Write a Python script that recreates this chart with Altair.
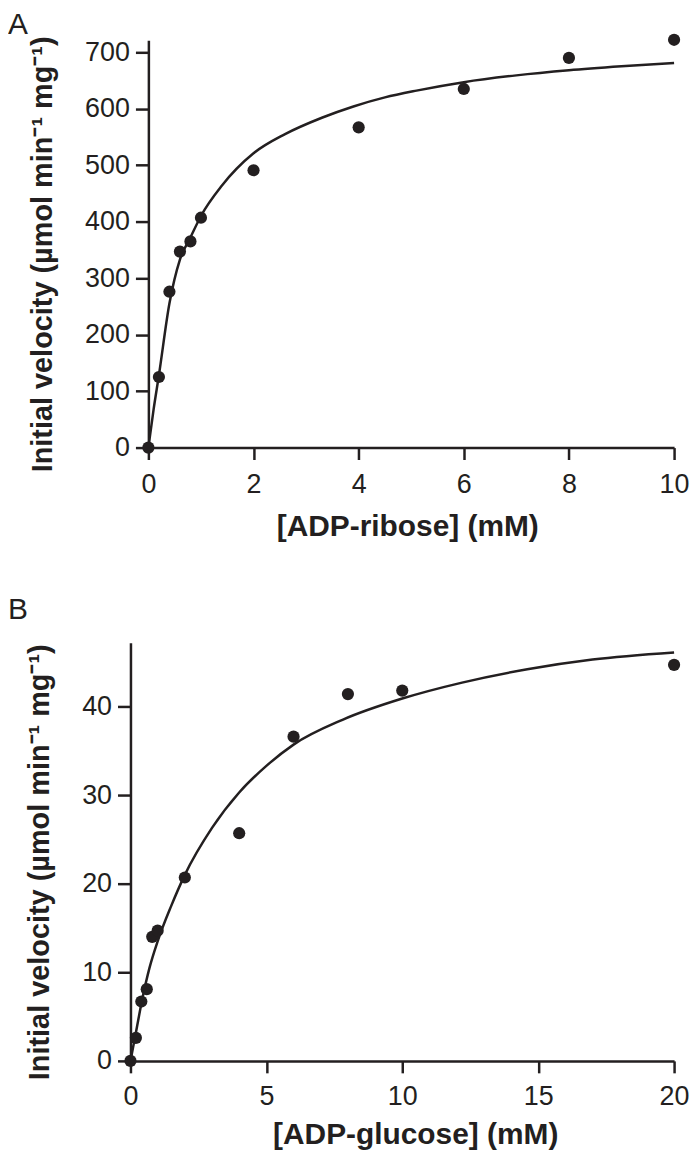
import altair as alt
import pandas as pd

# Panel A: ADP-ribose
a_conc = [0, 0.2, 0.4, 0.6, 0.8, 1.0, 2, 4, 6, 8, 10]
a_vel = [0, 125, 276, 347, 365, 407, 491, 567, 635, 690, 722]
a_fit_x = [0, 0.1, 0.2, 0.4, 0.6, 0.8, 1.0, 1.4, 2.0, 2.6, 3.3, 3.9, 4.5, 5.1, 6, 7, 8, 9, 10]
a_fit_y = [0, 68, 128, 255, 333, 372, 410, 464, 521, 555, 584, 604, 620, 632, 647, 659, 668, 675, 681]

# Panel B: ADP-glucose
b_conc = [0, 0.2, 0.4, 0.6, 0.8, 1.0, 2, 4, 6, 8, 10, 20]
b_vel = [0, 2.6, 6.7, 8.1, 14.0, 14.7, 20.7, 25.7, 36.6, 41.4, 41.8, 44.7]
b_fit_x = [0, 0.2, 0.45, 0.7, 1.0, 1.5, 2.0, 3.0, 4.0, 5.0, 6.0, 7.8, 10, 12.2, 14.6, 17, 20]
b_fit_y = [0, 3.2, 7.2, 10.5, 13.5, 17.5, 21.0, 26.3, 30.3, 33.3, 35.7, 38.5, 40.9, 42.7, 44.2, 45.3, 46.1]

INK = "#231f20"
FONT = "Liberation Sans"
YTITLE = "Initial velocity (µmol min⁻¹ mg⁻¹)"


def panel(conc, vel, fx, fy, xdom, ydom, xvals, yvals, xtitle, label,
          w, h, shift, lx, ly, xtitle_x, xlp, xtp):
    pts = pd.DataFrame({"x": conc, "y": vel})
    fit = pd.DataFrame({"x": fx, "y": fy})
    lab = pd.DataFrame({"label": [label]})
    xs = alt.Scale(domain=xdom, nice=False, zero=True, range=[-shift, w])
    ys = alt.Scale(domain=ydom, nice=False, zero=True)
    xax = alt.Axis(values=xvals, title=xtitle, grid=False, tickSize=12,
                   labelPadding=xlp, titlePadding=xtp, labelFlush=False,
                   titleFontSize=30, titleX=xtitle_x)
    yax = alt.Axis(values=yvals, title=YTITLE, grid=False, tickSize=13,
                   labelPadding=6, titlePadding=27, titleFontSize=29,
                   offset=shift, titleY=h / 2 + 10)
    line = alt.Chart(fit).mark_line(color=INK, strokeWidth=2.5, interpolate="monotone", clip=False).encode(
        x=alt.X("x:Q", scale=xs, axis=xax),
        y=alt.Y("y:Q", scale=ys, axis=yax),
    )
    dots = alt.Chart(pts).mark_circle(color=INK, opacity=1, size=150, clip=False).encode(
        x=alt.X("x:Q", scale=xs),
        y=alt.Y("y:Q", scale=ys),
    )
    letter = alt.Chart(lab).mark_text(
        font=FONT, fontSize=30, color=INK, align="left", baseline="top"
    ).encode(text="label:N", x=alt.value(lx), y=alt.value(ly))
    return alt.layer(line, dots, letter).properties(width=w, height=h)


pa = panel(a_conc, a_vel, a_fit_x, a_fit_y, [0, 10], [0, 721],
           [0, 2, 4, 6, 8, 10], [0, 100, 200, 300, 400, 500, 600, 700],
           "[ADP-ribose] (mM)", "A", 528, 409, 0, -141, -30, 260, 12, 14)
pb = panel(b_conc, b_vel, b_fit_x, b_fit_y, [0, 20], [0, 47.2],
           [0, 5, 10, 15, 20], [0, 10, 20, 30, 40],
           "[ADP-glucose] (mM)", "B", 528, 420, 18, -141, -48, 268, 11, 10)

chart = alt.vconcat(pa, pb, spacing=54).properties(
    padding={"left": 0, "top": 0, "right": 0, "bottom": 0}
).configure_view(stroke=None).configure_axis(
    domainColor=INK, domainWidth=2.5, tickColor=INK, tickWidth=2.5,
    labelFont=FONT, labelFontSize=27, labelColor=INK,
    titleFont=FONT, titleFontWeight="bold", titleColor=INK,
)

chart.save("out.html", embed_options={"renderer": "svg", "actions": False})
